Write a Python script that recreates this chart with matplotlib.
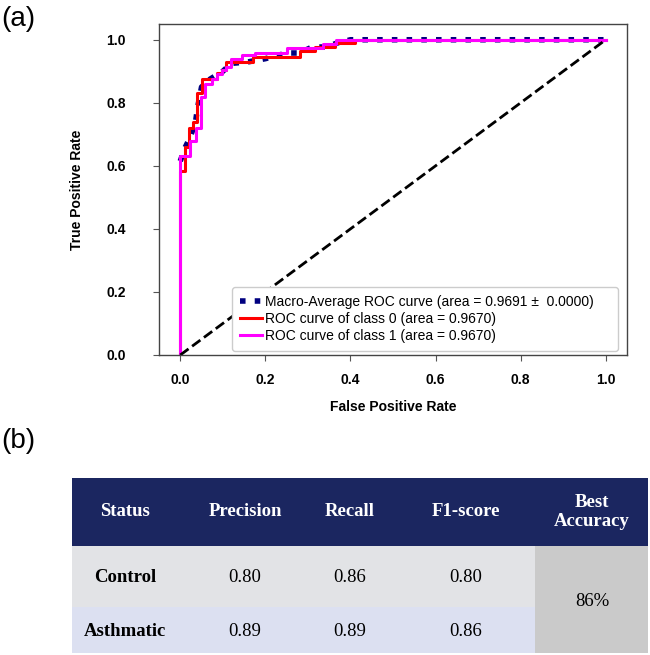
import matplotlib
matplotlib.use("Agg")
import matplotlib.pyplot as plt
from matplotlib.patches import Rectangle

# ROC curves (step corners)
fpr_class0 = [0, 0, 0.01, 0.01, 0.02, 0.02, 0.03, 0.03, 0.039, 0.039, 0.05, 0.05,
              0.086, 0.086, 0.098, 0.098, 0.107, 0.107, 0.171, 0.171, 0.281, 0.281,
              0.316, 0.316, 0.364, 0.364, 0.41, 0.41, 1.0]
tpr_class0 = [0, 0.585, 0.585, 0.66, 0.66, 0.72, 0.72, 0.74, 0.74, 0.83, 0.83, 0.876,
              0.876, 0.893, 0.893, 0.905, 0.905, 0.928, 0.928, 0.946, 0.946, 0.965,
              0.965, 0.978, 0.978, 0.99, 0.99, 1.0, 1.0]

fpr_class1 = [0, 0, 0.023, 0.023, 0.036, 0.036, 0.048, 0.048, 0.059, 0.059, 0.075, 0.075,
              0.086, 0.086, 0.098, 0.098, 0.107, 0.107, 0.12, 0.12, 0.144, 0.144,
              0.175, 0.175, 0.25, 0.25, 0.335, 0.335, 0.367, 0.367, 1.0]
tpr_class1 = [0, 0.63, 0.63, 0.68, 0.68, 0.72, 0.72, 0.82, 0.82, 0.86, 0.86, 0.875,
              0.875, 0.89, 0.89, 0.905, 0.905, 0.914, 0.914, 0.94, 0.94, 0.952,
              0.952, 0.957, 0.957, 0.975, 0.975, 0.985, 0.985, 1.0, 1.0]

fpr_macro = [0, 0.011, 0.023, 0.036, 0.04, 0.05, 0.07, 0.1, 0.12, 0.16, 0.2,
             0.25, 0.28, 0.31, 0.34, 0.37, 0.4, 1.0]
tpr_macro = [0.615, 0.657, 0.69, 0.74, 0.78, 0.85, 0.875, 0.9, 0.925, 0.93, 0.94,
             0.958, 0.958, 0.977, 0.977, 0.99, 1.0, 1.0]

auc_macro = 0.9691
auc_class0 = 0.9670
auc_class1 = 0.9670

# table (b)
table_header = ["Status", "Precision", "Recall", "F1-score", "Best\nAccuracy"]
table_status = ["Control", "Asthmatic"]
precision = ["0.80", "0.89"]
recall = ["0.86", "0.89"]
f1_score = ["0.80", "0.86"]
best_accuracy = "86%"

sans = ["Liberation Sans", "DejaVu Sans"]
serif = ["Liberation Serif", "DejaVu Serif"]

fig = plt.figure(figsize=(6.5, 6.55), dpi=100)

# --- (a) ROC plot ---
ax = fig.add_axes([159 / 650, 1 - 355 / 655, 468 / 650, 331 / 655])
ax.set_zorder(2)
ax.plot(fpr_macro, tpr_macro, color="navy", linestyle=":", linewidth=4,
        label=f"Macro-Average ROC curve (area = {auc_macro:.4f} \u00b1  0.0000)")
ax.plot(fpr_class0, tpr_class0, color="red", linewidth=2.2,
        label=f"ROC curve of class 0 (area = {auc_class0:.4f})")
ax.plot(fpr_class1, tpr_class1, color="magenta", linewidth=2.2,
        label=f"ROC curve of class 1 (area = {auc_class1:.4f})")
ax.plot([0, 1], [0, 1], "k--", linewidth=2)

ax.set_xlim(-0.05, 1.05)
ax.set_ylim(0.0, 1.05)
ax.set_xticks([0, 0.2, 0.4, 0.6, 0.8, 1.0])
ax.set_yticks([0, 0.2, 0.4, 0.6, 0.8, 1.0])
ax.tick_params(length=4, width=0.8, color="#555555", labelsize=10)
ax.tick_params(axis="y", pad=20)
ax.tick_params(axis="x", pad=9)
for lab in ax.get_xticklabels() + ax.get_yticklabels():
    lab.set_fontweight("bold")
    lab.set_family(sans)
for sp in ax.spines.values():
    sp.set_color("#444444")
    sp.set_linewidth(1.0)
ax.set_xlabel("False Positive Rate", fontsize=10, fontweight="bold", family=sans, labelpad=9)
ax.set_ylabel("True Positive Rate", fontsize=10, fontweight="bold", family=sans, labelpad=16)

leg = ax.legend(loc="lower left", bbox_to_anchor=(0.156, 0.013, 0.825, 0.19),
                mode="expand", borderaxespad=0,
                prop={"family": sans, "size": 10}, handlelength=1.6, handletextpad=0.25,
                borderpad=0.55, labelspacing=0.22, fancybox=True, framealpha=1.0,
                edgecolor="#cccccc")

# --- (b) table, drawn in pixel-like coordinates ---
tab = fig.add_axes([0, 0, 1, 1])
tab.set_zorder(1)
tab.set_xlim(0, 650)
tab.set_ylim(655, 0)
tab.axis("off")

tab.text(1, 19, "(a)", fontsize=20, family=sans, va="center", ha="left")
tab.text(1, 441, "(b)", fontsize=20, family=sans, va="center", ha="left")

x_left, x_right = 72, 648
acc_left = 535
header_top, header_bot = 478, 546
row_edges = [546, 607, 653]
row_colors = ["#e2e3e6", "#dce0f1"]
col_centers = [125, 245, 350, 466, 592]

tab.add_patch(Rectangle((x_left, header_top), x_right - x_left, header_bot - header_top,
                        facecolor="#1b2660", edgecolor="none"))
for i in range(2):
    tab.add_patch(Rectangle((x_left, row_edges[i]), acc_left - x_left,
                            row_edges[i + 1] - row_edges[i],
                            facecolor=row_colors[i], edgecolor="none"))
tab.add_patch(Rectangle((acc_left, header_bot), x_right - acc_left,
                        row_edges[-1] - header_bot, facecolor="#cacaca", edgecolor="none"))

for x, h in zip(col_centers, table_header):
    tab.text(x, 512, h, color="white", fontsize=13.5, fontweight="bold", family=serif,
             ha="center", va="center", linespacing=1.1)

for i in range(2):
    y = [578, 631][i]
    tab.text(col_centers[0], y, table_status[i], fontsize=13.5, fontweight="bold",
             family=serif, ha="center", va="center")
    for x, v in zip(col_centers[1:4], [precision[i], recall[i], f1_score[i]]):
        tab.text(x, y, v, fontsize=13.5, family=serif, ha="center", va="center")
tab.text(col_centers[4], 602, best_accuracy, fontsize=13.5, family=serif,
         ha="center", va="center")

fig.savefig("out.png", dpi=100)
plt.close(fig)
